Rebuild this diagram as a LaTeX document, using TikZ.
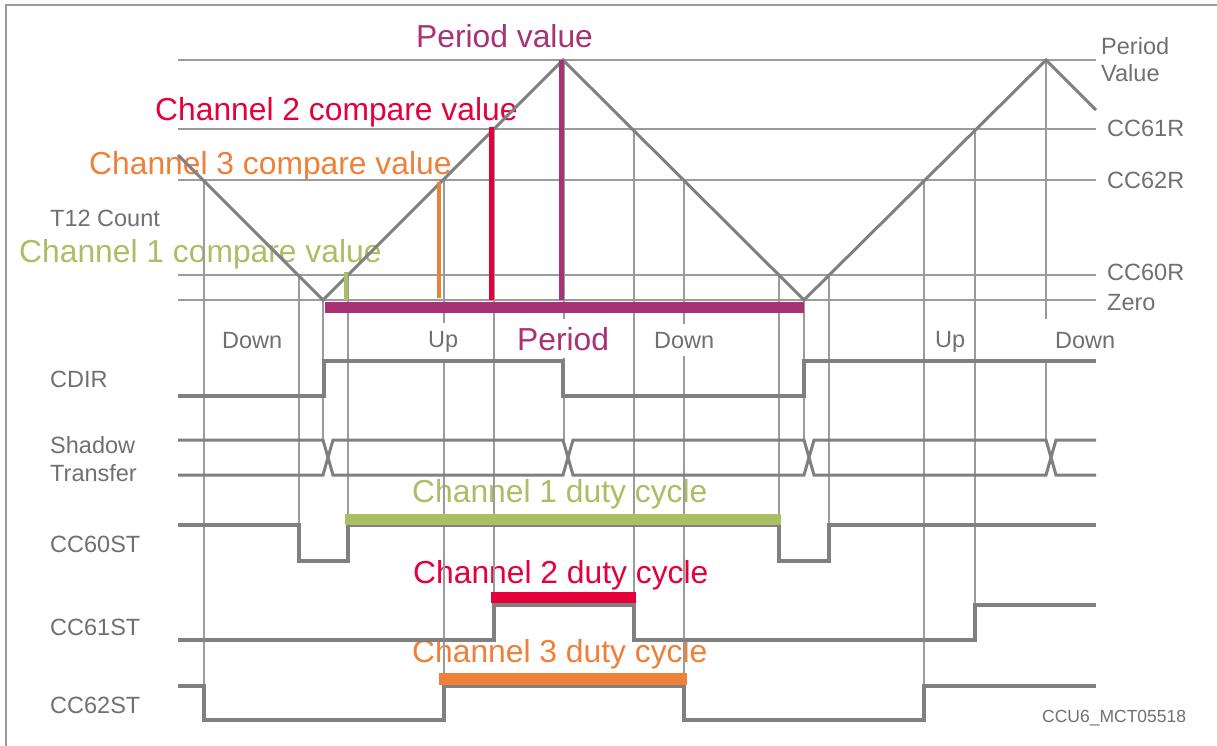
\documentclass[tikz,border=0pt]{standalone}
\usepackage{fontspec}
\setmainfont{Liberation Sans}
\usetikzlibrary{positioning}

\definecolor{periodcol}{RGB}{168,50,115}
\definecolor{chtwocol}{RGB}{228,0,58}
\definecolor{chthreecol}{RGB}{238,128,58}
\definecolor{chonecol}{RGB}{170,190,100}
\definecolor{sigcol}{RGB}{128,128,128}
\definecolor{gridcol}{RGB}{155,155,155}
\definecolor{textcol}{RGB}{112,112,112}

\tikzset{
	grid line/.style = {gridcol, line width = 1.5pt},
	count line/.style = {sigcol, line width = 3pt},
	signal line/.style = {sigcol, line width = 3.5pt},
	gray text/.style = {anchor = base west, inner sep = 0pt, text = textcol, font = {\fontsize{23.5}{28}\selectfont}},
	big text/.style = {anchor = base west, inner sep = 0pt, font = {\fontsize{31.8}{36}\selectfont}},
	phase text/.style = {gray text, fill = white, inner ysep = 8pt, inner xsep = 1pt}
}

\begin{document}
\begin{tikzpicture}[x = 1pt, y = -1pt]
	\useasboundingbox (0, 0) rectangle (1217, 746);
	\draw [gridcol, line width = 1.5pt] (1217, 5) -- (6, 5) -- (6, 746);

	\node (chtwocmp) [big text, text = chtwocol] at (155, 121) {Channel 2 compare value};
	\node (chthreecmp) [big text, text = chthreecol] at (89, 175) {Channel 3 compare value};
	\node (t12count) [gray text] at (50, 226) {T12 Count};
	\node (chonecmp) [big text, text = chonecol] at (19, 262) {Channel 1 compare value};
	\node (periodval) [big text, text = periodcol] at (416, 48) {Period value};
	\node (choneduty) [big text, text = chonecol] at (412, 502) {Channel 1 duty cycle};
	\node (chtwoduty) [big text, text = chtwocol] at (413, 583) {Channel 2 duty cycle};
	\node (chthreeduty) [big text, text = chthreecol] at (412, 662) {Channel 3 duty cycle};

	\draw [grid line] (178, 60) -- (1096, 60);
	\draw [grid line] (178, 129) -- (1096, 129);
	\draw [grid line] (178, 180) -- (1096, 180);
	\draw [grid line] (178, 275) -- (1096, 275);
	\draw [grid line] (178, 300) -- (1096, 300);

	\draw [grid line] (204, 180) -- (204, 720);
	\draw [grid line] (299, 275) -- (299, 561);
	\draw [grid line] (323, 300) -- (323, 440);
	\draw [grid line] (348, 275) -- (348, 525);
	\draw [grid line] (444, 180) -- (444, 686);
	\draw [grid line] (494, 129) -- (494, 605);
	\draw [grid line] (564, 60) -- (564, 440);
	\draw [grid line] (634, 129) -- (634, 640);
	\draw [grid line] (684, 180) -- (684, 720);
	\draw [grid line] (779, 275) -- (779, 561);
	\draw [grid line] (804, 300) -- (804, 440);
	\draw [grid line] (829, 275) -- (829, 525);
	\draw [grid line] (924, 180) -- (924, 686);
	\draw [grid line] (975, 129) -- (975, 605);
	\draw [grid line] (1046, 60) -- (1046, 319);
	\draw [grid line] (1046, 361) -- (1046, 440);

	\node (downa) [phase text] at (221, 348) {Down};
	\node (upa) [phase text] at (427, 347) {Up};
	\node (periodlbl) [big text, fill = white, inner ysep = 8pt, inner xsep = 1pt, text = periodcol] at (516, 350) {Period};
	\node (downb) [phase text] at (653, 348) {Down};
	\node (upb) [phase text] at (934, 347) {Up};
	\node (downc) [phase text] at (1054, 348) {Down};

	\draw [count line] (178, 155) -- (323, 300) -- (563, 60) -- (804, 300) -- (1046, 60) -- (1096, 110);

	\draw [chonecol, line width = 4pt] (346, 272) -- (346, 300);
	\draw [chthreecol, line width = 4pt] (439, 182) -- (439, 298);
	\draw [chtwocol, line width = 5pt] (491, 127) -- (491, 300);
	\draw [periodcol, line width = 5pt] (561, 60) -- (561, 300);
	\draw [periodcol, line width = 11pt] (325, 307.5) -- (804, 307.5);

	\draw [signal line] (178, 396) -- (324, 396) -- (324, 361) -- (563, 361) -- (563, 396) -- (804, 396) -- (804, 361) -- (1096, 361);
	\draw [signal line, line width = 3pt] (178, 440) -- (323, 440) -- (333, 475) -- (563, 475) -- (573, 440) -- (804, 440) -- (814, 475) -- (1046, 475) -- (1056, 440) -- (1096, 440);
	\draw [signal line, line width = 3pt] (178, 475) -- (323, 475) -- (333, 440) -- (563, 440) -- (573, 475) -- (804, 475) -- (814, 440) -- (1046, 440) -- (1056, 475) -- (1096, 475);
	\draw [signal line] (178, 525) -- (299, 525) -- (299, 561) -- (348, 561) -- (348, 525) -- (779, 525) -- (779, 561) -- (829, 561) -- (829, 525) -- (1096, 525);
	\draw [signal line] (178, 640) -- (494, 640) -- (494, 605) -- (634, 605) -- (634, 640) -- (975, 640) -- (975, 605) -- (1096, 605);
	\draw [signal line] (178, 686) -- (204, 686) -- (204, 720) -- (444, 720) -- (444, 686) -- (684, 686) -- (684, 720) -- (924, 720) -- (924, 686) -- (1096, 686);

	\draw [chonecol, line width = 11pt] (345, 519) -- (781, 519);
	\draw [chtwocol, line width = 11pt] (491, 597.5) -- (636, 597.5);
	\draw [chthreecol, line width = 12pt] (439, 679) -- (687, 679);

	\node (periodtop) [gray text] at (1101, 55) {Period};
	\node (periodbot) [gray text] at (1101, 82) {Value};
	\node (ccsixone) [gray text] at (1107, 137) {CC61R};
	\node (ccsixtwo) [gray text] at (1107, 189) {CC62R};
	\node (ccsixzero) [gray text] at (1107, 280) {CC60R};
	\node (zerolbl) [gray text] at (1107, 310) {Zero};

	\node (cdir) [gray text] at (50, 387) {CDIR};
	\node (shadow) [gray text] at (50, 453) {Shadow};
	\node (transfer) [gray text] at (50, 481) {Transfer};
	\node (ccsixzerost) [gray text] at (50, 552) {CC60ST};
	\node (ccsixonest) [gray text] at (50, 635) {CC61ST};
	\node (ccsixtwost) [gray text] at (50, 713) {CC62ST};
	\node (figid) [gray text, font = {\fontsize{17.5}{21}\selectfont}] at (1042, 722) {CCU6\_MCT05518};
\end{tikzpicture}
\end{document}
